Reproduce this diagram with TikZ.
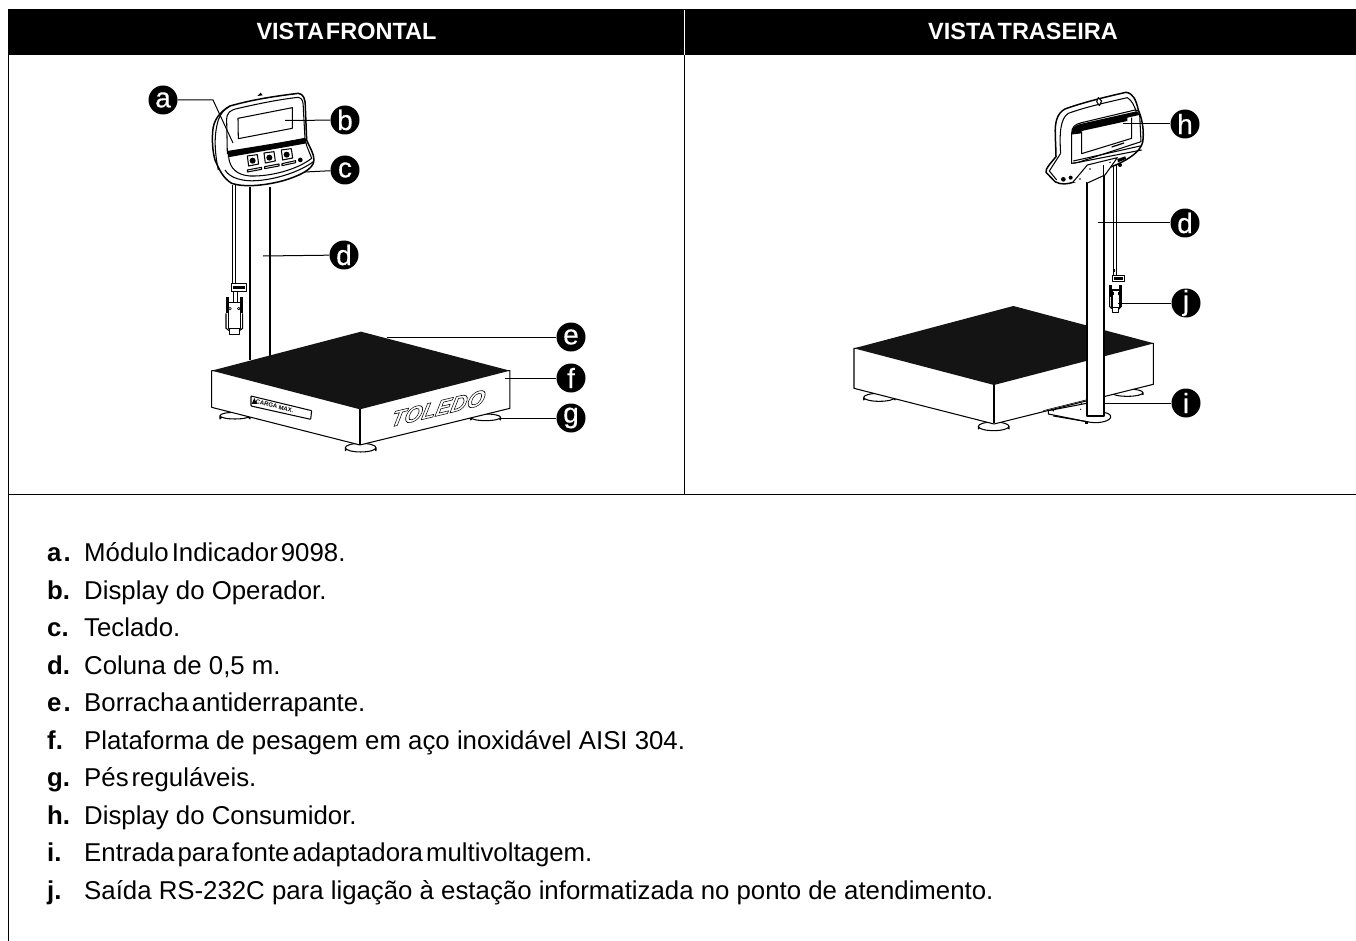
\documentclass[tikz,border=0pt]{standalone}
\usepackage{fontspec}
\setmainfont{Liberation Sans}
\newfontfamily\badgefont[FakeBold=0.3]{Liberation Sans}
\newcommand{\tsp}{\hspace{3pt}}
\tikzset{
  x=1pt,y=-1pt,
  badge/.style={circle,fill=black,text=white,inner sep=0pt,minimum size=29pt,font=\badgefont\fontsize{28}{28}\selectfont},
  leader/.style={draw=black,line width=1pt},
  ink/.style={draw=black,line width=1.05pt,line join=round},
  thick ink/.style={draw=black,line width=1.5pt,line join=round},
  thin ink/.style={draw=black,line width=0.6pt,line join=round},
  rule/.style={draw=black,line width=1pt},
  head/.style={text=white,font=\bfseries\fontsize{23.5}{26}\selectfont,inner sep=0pt},
  lab/.style={anchor=base west,inner sep=0pt,font=\bfseries\fontsize{25.8}{28}\selectfont},
  item/.style={anchor=base west,inner sep=0pt,font=\fontsize{25.8}{28}\selectfont},
  zoomA/.style={shift={(130,70)},x=0.3333pt,y=-0.3333pt},
  zoomB/.style={shift={(200,180)},x=0.3333pt,y=-0.3333pt},
  zoomC/.style={shift={(200,320)},x=0.3333pt,y=-0.3333pt},
  zoomD/.style={shift={(1040,85)},x=0.3333pt,y=-0.3333pt},
  zoomE/.style={shift={(840,290)},x=0.3333pt,y=-0.3333pt},
  zoomF/.style={shift={(1090,190)},x=0.3333pt,y=-0.3333pt},
}
\begin{document}
\begin{tikzpicture}
\useasboundingbox (0,0) rectangle (1356,941);
\fill[white] (0,0) rectangle (1356,941);
% frame
\fill[black] (8,9) rectangle (1356,55);
\draw[rule] (8,9) -- (8,941);
\draw[rule] (8,494.5) -- (1356,494.5);
\draw[rule] (684.5,55) -- (684.5,494);
\draw[draw=white,line width=0.6pt] (684.5,10) -- (684.5,55);
\node[head] (hf) at (346.5,31) {VISTA\hspace{-1pt}\tsp FRONTAL};
\node[head] (hr) at (1023,31) {VISTA\hspace{-1pt}\tsp TRASEIRA};

% ---------- FRONT VIEW ----------
\begin{scope}[zoomB]
  \draw[thick ink] (150,20) -- (150,540);
  \draw[thick ink] (210,20) -- (210,528);
  \draw[ink] (98,15) -- (98,310);
  \draw[ink] (107,15) -- (107,310);
  \draw[ink,fill=white] (95,310) rectangle (140,335);
  \fill (100,317) rectangle (135,328);
  \draw[ink] (100,335) -- (100,365);
  \draw[ink] (112,335) -- (112,365);
  \draw[ink,fill=white] (86,368) -- (122,368) -- (122,445) -- (86,445) -- cycle;
  \draw[ink,fill=white] (88,445) rectangle (118,463);
  \fill (78,352) rectangle (86,400);
  \fill (121,352) rectangle (129,400);
  \draw[ink] (78,400) -- (78,445) -- (88,452);
  \draw[ink] (128,400) -- (128,445) -- (118,452);
  \draw[thin ink,fill=white] (90,386) circle (4);
  \draw[thin ink,fill=white] (116,386) circle (4);
\end{scope}

\begin{scope}[zoomA]
  \draw[thick ink,fill=white] (248,185) .. controls (250,150) and (270,125) .. (300,108)
     .. controls (370,88) and (440,78) .. (505,70) .. controls (520,72) and (526,85) .. (526,110)
     -- (530,210) .. controls (540,235) and (552,250) .. (552,270)
     .. controls (552,300) and (500,320) .. (460,332) .. controls (400,348) and (340,352) .. (305,340)
     .. controls (280,325) and (268,300) .. (255,270) .. controls (248,245) and (246,215) .. (248,185) -- cycle;
  \draw[ink] (265,300) .. controls (255,250) and (250,200) .. (265,150) .. controls (272,130) and (285,115) .. (300,108);
  \draw[ink] (290,150) .. controls (290,128) and (300,120) .. (325,115) .. controls (390,100) and (450,88) .. (505,82) .. controls (518,85) and (520,95) .. (520,115)
     -- (525,205) -- (292,250) -- cycle;
  \fill[black] (292,243) -- (527,205) -- (530,220) -- (294,262) -- cycle;
  \draw[ink] (324,145) -- (487,113) -- (487,175) -- (325,206) -- cycle;
  \draw[ink] (296,262) .. controls (300,295) and (320,315) .. (360,318) .. controls (420,320) and (500,300) .. (545,265) .. controls (540,250) and (532,235) .. (528,220);
  \draw[ink] (285,300) .. controls (300,325) and (340,335) .. (380,332) .. controls (440,328) and (510,305) .. (550,275);
  \foreach \cx/\cy in {368/272,418/263,470/254}{
    \draw[ink,fill=white] (\cx-16,\cy-14) -- (\cx+14,\cy-18) -- (\cx+18,\cy+10) -- (\cx-12,\cy+16) -- cycle;
    \fill[black] (\cx,\cy) circle (9);
  }
  \draw[ink] (352,300) -- (395,292) -- (395,298) -- (352,306) -- cycle;
  \draw[ink] (404,290) -- (447,282) -- (447,288) -- (404,296) -- cycle;
  \draw[ink] (456,281) -- (497,272) -- (497,278) -- (456,287) -- cycle;
  \fill[black] (511,270) circle (7);
  \fill[black] (382,78) -- (392,68) -- (398,76) -- cycle;
\end{scope}

\begin{scope}[zoomC]
  \foreach \fx/\fy/\frx/\fry/\rim in {105/287/45/10/10,482/383/46/13/9,857/292/45/10/8}{
    \draw[ink,fill=white] (\fx-\frx,\fy) -- (\fx-\frx,\fy+\rim) arc[start angle=180,end angle=360,x radius=\frx,y radius=\fry] -- (\fx+\frx,\fy);
    \draw[ink,fill=white] (\fx,\fy) ellipse[x radius=\frx,y radius=\fry];
  }
  \draw[ink,fill=white] (35,152) -- (35,262) -- (480,375) -- (930,265) -- (930,152) -- cycle;
  \fill[black!92] (35,152) -- (483,35) -- (930,152) -- (480,268) -- cycle;
  \draw[thick ink] (480,268) -- (480,375);
  \draw[ink,rounded corners=0.6pt] (153,228) -- (335,272) -- (332,298) -- (153,258) -- cycle;
  \fill[black] (163,234) -- (171,252) -- (155,252) -- cycle;
  \node[rotate=-13.5,inner sep=0pt,font=\bfseries\fontsize{6}{6}\selectfont] (cargam) at (224,258) {CARGA MAX.};
  \node[cm={1,0.24,0.22,1,(0,0)},transform shape,inner sep=0pt,
        font=\bfseries\itshape\fontsize{22.5}{24}\selectfont] (toledo) at (715,265)
     {\special{pdf:code q 1 Tr 0.6 w}TOLEDO\special{pdf:code Q}};
\end{scope}

% ---------- REAR VIEW ----------
\begin{scope}[zoomE]
  \foreach \fx/\fy/\frx/\fry/\rim in {118/322/47/12/8,461/409/46/13/8,862/308/47/11/6}{
    \draw[ink,fill=white] (\fx-\frx,\fy) -- (\fx-\frx,\fy+\rim) arc[start angle=180,end angle=360,x radius=\frx,y radius=\fry] -- (\fx+\frx,\fy);
    \draw[ink,fill=white] (\fx,\fy) ellipse[x radius=\frx,y radius=\fry];
  }
  \draw[ink,fill=white] (625,362) -- (740,340) -- (770,368)
     .. controls (800,365) and (815,372) .. (812,383) .. controls (805,396) and (770,402) .. (740,395) -- (625,372) -- cycle;
  \draw[ink] (640,378) -- (740,395);
  \fill[black] (735,392) rectangle (745,402);
  \draw[ink,fill=white] (42,175) -- (42,295) -- (462,402) -- (940,283) -- (940,160) -- cycle;
  \fill[black!92] (42,175) -- (520,48) -- (942,160) -- (462,285) -- cycle;
  \draw[thick ink] (462,285) -- (462,400);
  \draw[thin ink] (610,362) -- (738,330);
  \fill[black] (640,362) circle (3);
  \fill[black] (722,358) circle (2);
  \fill[black] (724,340) circle (2);
\end{scope}
\draw[thick ink,fill=white] (1087,150) -- (1087,416) -- (1104,416) -- (1104,150);
\draw[thin ink,line width=0.9pt] (1113,165) -- (1113,275);
\draw[thin ink,line width=0.9pt] (1116,165) -- (1116,275);

\begin{scope}[zoomD]
  \draw[thick ink,fill=white] (46,150) .. controls (44,115) and (50,85) .. (75,72)
     .. controls (130,52) and (200,35) .. (258,22) .. controls (280,25) and (288,45) .. (295,75)
     .. controls (310,110) and (312,145) .. (308,172) .. controls (300,200) and (270,220) .. (232,238)
     -- (105,290) .. controls (85,298) and (60,300) .. (45,290) -- (18,262) .. controls (15,250) and (35,232) .. (48,215) .. controls (48,195) and (46,170) .. (46,150) -- cycle;
  \draw[ink] (62,205) .. controls (58,150) and (60,100) .. (85,85) .. controls (140,65) and (210,50) .. (262,38) .. controls (275,45) and (285,65) .. (290,85);
  \draw[ink] (62,205) -- (28,258) -- (50,285);
  \draw[ink] (95,235) -- (95,145) .. controls (95,125) and (105,118) .. (125,113) -- (285,75) .. controls (295,76) and (298,80) .. (299,90) -- (303,170) -- (115,232) -- cycle;
  \fill[black] (95,148) .. controls (95,128) and (105,120) .. (125,116) -- (285,80) .. controls (295,80) and (297,84) .. (298,90) -- (262,98) -- (262,108) -- (125,138) -- (125,145) -- (100,148) -- cycle;
  \draw[ink] (125,140) -- (125,206) -- (275,160) -- (275,98);
  \fill[black] (215,184) -- (252,172) -- (252,176) -- (215,188) -- cycle;
  \draw[ink] (100,235) -- (305,195);
  \draw[ink] (100,228) -- (305,182);
  \fill[black] (232,222) -- (256,214) -- (258,222) -- (234,232) -- cycle;
  \draw[ink,fill=white] (100,290) -- (142,240) -- (232,218) -- (195,270) -- (140,295);
  \fill[black] (70,283) circle (7);
  \fill[black] (92,278) circle (6);
  \fill[black] (240,240) circle (6);
  \fill[black] (150,252) circle (2.5);
  \fill[black] (120,282) circle (2.5);
  \fill[black] (210,232) circle (2.5);
  \draw[ink,fill=white] (170,50) -- (175,38) -- (185,48) -- (178,62) -- cycle;
  \draw[thick ink] (140,290) -- (140,360);
  \draw[thick ink] (190,240) -- (190,360);
\end{scope}

% rear connector
\begin{scope}[zoomF]
  \draw[ink,fill=white] (68,256) rectangle (103,275);
  \fill[black] (72,261) rectangle (99,270);
  \fill[black] (70,238) rectangle (75,245);
  \draw[ink,fill=white] (66,300) rectangle (90,352);
  \draw[ink,fill=white] (68,352) rectangle (86,368);
  \fill[black] (58,285) rectangle (65,320);
  \fill[black] (88,285) rectangle (95,320);
  \draw[ink] (59,320) -- (59,350) -- (68,358);
  \draw[ink] (94,320) -- (94,350) -- (86,358);
  \fill[black] (68,305) rectangle (72,316);
  \fill[black] (84,305) rectangle (88,316);
\end{scope}

% ---------- BADGES + LEADERS ----------
\node[badge] (ba) at (163,100) {a};
\node[badge] (bb) at (345,120) {b};
\node[badge] (bc) at (345,170) {c};
\node[badge] (bd) at (344,255) {d};
\node[badge] (be) at (571,337) {e};
\node[badge] (bf) at (571,378) {f};
\node[badge] (bg) at (571,418) {g};
\node[badge] (bh) at (1185,124) {h};
\node[badge] (bdr) at (1185,223) {d};
\node[badge] (bj) at (1186,303) {j};
\node[badge] (bi) at (1186,403) {i};

\coordinate (ta1) at (213,100);
\coordinate (ta) at (233,143);
\coordinate (tb) at (285,120.5);
\coordinate (tc) at (305,172);
\coordinate (td) at (263,256);
\coordinate (te) at (387,337);
\coordinate (tf) at (505,378);
\coordinate (tg) at (501,418);
\coordinate (th) at (1123,124);
\coordinate (tdr) at (1098,223);
\coordinate (tj) at (1118,303);
\coordinate (ti) at (1105,403);

\draw[leader] (ba) -- (ta1) -- (ta);
\draw[leader] (bb) -- (tb);
\draw[leader] (bc) -- (tc);
\draw[leader] (bd) -- (td);
\draw[leader] (be) -- (te);
\draw[leader] (bf) -- (tf);
\draw[leader] (bg) -- (tg);
\draw[leader] (bh) -- (th);
\draw[leader] (bdr) -- (tdr);
\draw[leader] (bj) -- (tj);
\draw[leader] (bi) -- (ti);

% ---------- LEGEND ----------
\node[lab] (la) at (47,561.5) {a\hspace{2pt}.};
\node[item] (ia) at (84,561.5) {Módulo\tsp Indicador\tsp 9098.};
\node[lab] (lb) at (47,599) {b.};
\node[item] (ib) at (84,599) {Display do Operador.};
\node[lab] (lc) at (47,636.5) {c.};
\node[item] (ic) at (84,636.5) {Teclado.};
\node[lab] (ld) at (47,674) {d.};
\node[item] (id) at (84,674) {Coluna de 0,5 m.};
\node[lab] (le) at (47,711.5) {e\hspace{2pt}.};
\node[item] (ie) at (84,711.5) {Borracha\tsp antiderrapante.};
\node[lab] (lf) at (47,749) {f.};
\node[item] (if) at (84,749) {Plataforma de pesagem em aço inoxidável AISI 304.};
\node[lab] (lg) at (47,786.5) {g.};
\node[item] (ig) at (84,786.5) {Pés\tsp reguláveis.};
\node[lab] (lh) at (47,824) {h.};
\node[item] (ih) at (84,824) {Display do Consumidor.};
\node[lab] (li) at (47,861) {i.};
\node[item] (ii) at (84,861) {Entrada\tsp para\tsp fonte\tsp adaptadora\tsp multivoltagem.};
\node[lab] (lj) at (47,899) {j.};
\node[item] (ij) at (84,899) {Saída RS-232C para ligação à estação informatizada no ponto de atendimento.};
\end{tikzpicture}
\end{document}
